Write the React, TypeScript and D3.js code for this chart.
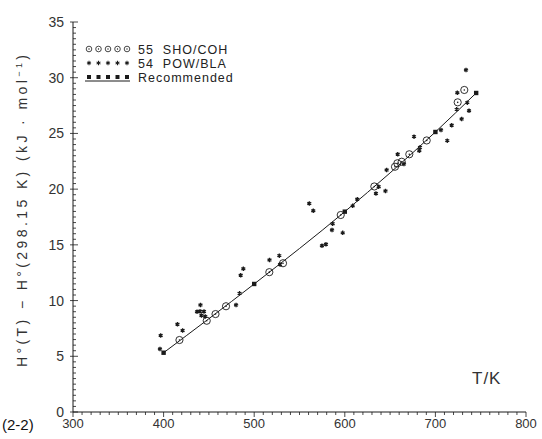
import React from "react";
import * as d3 from "d3";

// Recommended values (squares + line)
const recT = [400, 500, 600, 700, 745];
const recH = [5.32, 11.49, 17.98, 25.13, 28.63];

// 55 SHO/COH (circles)
const shoT = [417.5, 447.6, 457.3, 468.9, 516.7, 531.8, 595.5, 632.6, 655.4, 658, 662.8, 671.2, 690.4, 724.6, 731.9];
const shoH = [6.46, 8.19, 8.79, 9.49, 12.55, 13.35, 17.68, 20.24, 22.01, 22.32, 22.46, 23.13, 24.37, 27.79, 28.9];

// 54 POW/BLA (stars)
const powT = [396.8, 396, 415.3, 421, 440.7, 436.9, 440.2, 444.6, 441.8, 446, 480, 483.8, 485.1, 488, 516.9, 527.7, 528.5,
  560.8, 565.2, 574.8, 579.2, 586.6, 585.9, 597.7, 608.7, 613.8, 637.4, 634.4, 644.9, 646.2, 658.4, 665.3, 676.4, 683,
  682.2, 706.2, 713.1, 718, 729, 723.5, 724.2, 737.1, 735.2, 733.8];
const powH = [6.87, 5.65, 7.88, 7.31, 9.6, 9.0, 9.04, 9.02, 8.66, 8.57, 9.6, 10.65, 12.27, 12.85, 13.64, 14.03, 13.24,
  18.71, 18.06, 14.92, 15.05, 16.9, 16.33, 16.08, 18.5, 19.09, 20.22, 19.61, 19.83, 21.72, 23.13, 22.26, 24.71, 23.75,
  23.45, 25.31, 24.35, 25.73, 26.29, 27.16, 28.65, 27.04, 27.76, 30.69];

const xTicks = [300, 400, 500, 600, 700, 800];
const yTicks = [0, 5, 10, 15, 20, 25, 30, 35];
const legendLabels = ["55  SHO/COH", "54  POW/BLA", "Recommended"];

const W = 542;
const H = 439;

export default function App() {
  const x = d3.scaleLinear().domain([300, 800]).range([73, 526]);
  const y = d3.scaleLinear().domain([0, 35]).range([412, 22]);
  const font = "'Liberation Sans', Arial, sans-serif";
  const ink = "#1a1a1a";

  const recPts = recT.map((t, i) => [t, recH[i]] as [number, number]);
  const line = d3
    .line<[number, number]>()
    .x((d) => x(d[0]))
    .y((d) => y(d[1]))
    .curve(d3.curveMonotoneX);

  const star = d3.symbol().type(d3.symbolAsterisk).size(14)()!;

  const xMinor = d3.range(300, 801, 10);
  const yMinor = d3.range(0, 35.01, 0.5);

  const legendX = [89, 98.5, 108, 117.5, 127];
  const legendY = [49, 63, 77];

  return (
    <svg width={W} height={H} style={{ position: "absolute", left: 0, top: 0, background: "#fff" }}>
      <rect width={W} height={H} fill="#fff" />
      {/* axes */}
      <line x1={73} x2={526} y1={412} y2={412} stroke={ink} strokeWidth={1} />
      <line x1={73} x2={73} y1={22} y2={412} stroke={ink} strokeWidth={1} />
      {xMinor.map((t) => (
        <line key={"xm" + t} x1={x(t)} x2={x(t)} y1={412} y2={t % 100 === 0 ? 417 : 415} stroke={ink} strokeWidth={0.8} />
      ))}
      {yMinor.map((v) => (
        <line key={"ym" + v} x1={v % 5 === 0 ? 70 : 73} x2={v % 5 === 0 ? 78 : 76} y1={y(v)} y2={y(v)} stroke={ink} strokeWidth={0.8} />
      ))}
      {xTicks.map((t) => (
        <text key={"xl" + t} x={x(t)} y={428} textAnchor="middle" fontFamily={font} fontSize={13} fill="#333">
          {t}
        </text>
      ))}
      {yTicks.map((v) => (
        <text key={"yl" + v} x={64} y={y(v) + 5} textAnchor="end" fontFamily={font} fontSize={14} fill="#333">
          {v}
        </text>
      ))}
      <text x={2} y={430} fontFamily={font} fontSize={15} fill="#111">(2-2)</text>
      <text x={472} y={384} fontFamily={font} fontSize={17} fill="#333" letterSpacing={1}>T/K</text>
      <text
        transform="translate(27,211) rotate(-90)"
        textAnchor="middle"
        fontFamily={font}
        fontSize={14}
        fill="#333"
        textLength={312}
        lengthAdjust="spacing"
      >
        H°(T)  −  H°(298.15 K)  (kJ · mol<tspan dy={-5} fontSize={9}>−1</tspan><tspan dy={5}>)</tspan>
      </text>

      {/* recommended line */}
      <path d={line(recPts) || ""} fill="none" stroke={ink} strokeWidth={1} />

      {/* data */}
      {powT.map((t, i) => (
        <path key={"p" + i} d={star} transform={`translate(${x(t)},${y(powH[i])})`} stroke={ink} strokeWidth={1.3} fill="none" />
      ))}
      {shoT.map((t, i) => (
        <g key={"s" + i} transform={`translate(${x(t)},${y(shoH[i])})`}>
          <circle r={3.6} fill="none" stroke={ink} strokeWidth={0.9} />
          <circle r={0.8} fill={ink} />
        </g>
      ))}
      {recT.map((t, i) => (
        <rect key={"r" + i} x={x(t) - 2.2} y={y(recH[i]) - 2.2} width={4.4} height={4.4} fill={ink} />
      ))}

      {/* legend */}
      {legendX.map((lx, i) => (
        <g key={"lg" + i}>
          <g transform={`translate(${lx},${legendY[0]})`}>
            <circle r={2.8} fill="none" stroke={ink} strokeWidth={0.8} />
            <circle r={0.7} fill={ink} />
          </g>
          <path d={star} transform={`translate(${lx},${legendY[1]})`} stroke={ink} strokeWidth={1.1} fill="none" />
          <rect x={lx - 2} y={legendY[2] - 2} width={4} height={4} fill={ink} />
        </g>
      ))}
      <line x1={85} x2={130} y1={legendY[2] + 4} y2={legendY[2] + 4} stroke={ink} strokeWidth={1} />
      {legendLabels.map((s, i) => (
        <text key={"lt" + i} x={138} y={legendY[i] + 4.5} fontFamily={font} fontSize={12.5} fill="#222" letterSpacing={1} xmlSpace="preserve" style={{ whiteSpace: "pre" }}>
          {s}
        </text>
      ))}
    </svg>
  );
}
